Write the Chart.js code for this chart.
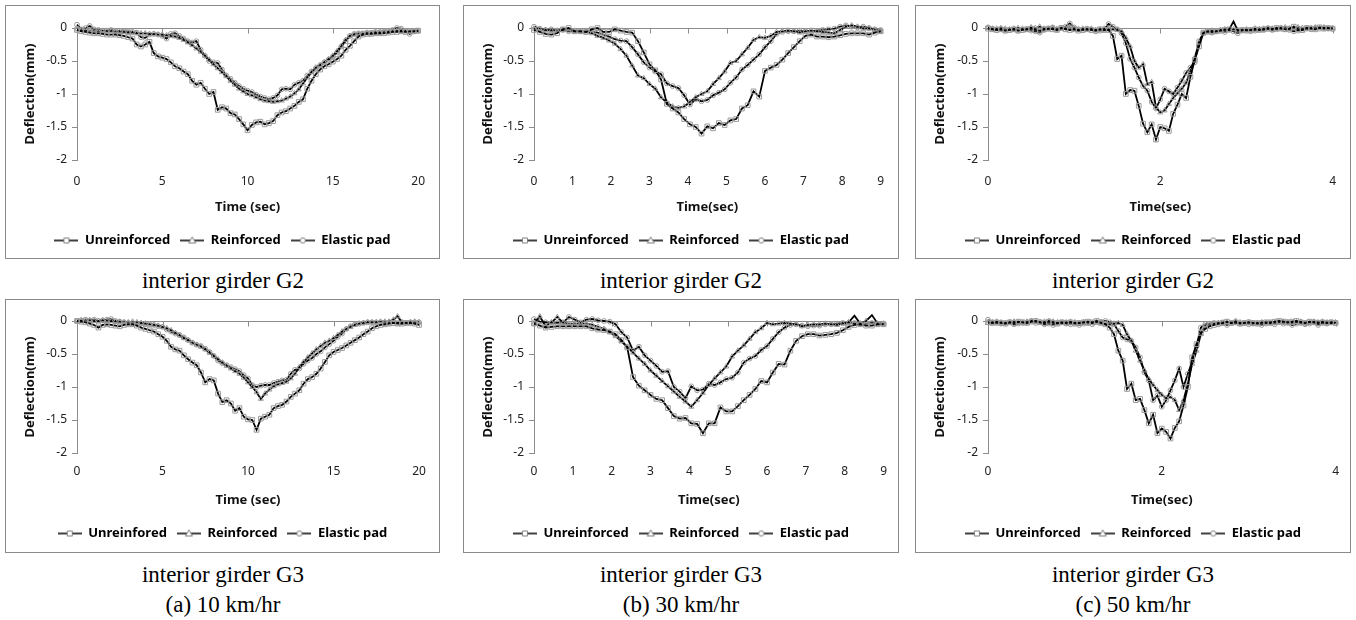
<!DOCTYPE html>
<html>
<head>
<meta charset="utf-8">
<script src="https://cdn.jsdelivr.net/npm/chart.js@4.4.1/dist/chart.umd.min.js"></script>
<style>
  body { margin: 0; background: #fff; width: 1356px; height: 620px; position: relative; overflow: hidden; }
  .panel { position: absolute; border: 1px solid #8a8a8a; background: #fff; }
  .panel canvas { display: block; }
  .cap { position: absolute; width: 440px; text-align: center; font-family: "Liberation Serif", "Times New Roman", serif; font-size: 23px; line-height: 24px; color: #000; white-space: nowrap; }
</style>
</head>
<body>
<div class="panel" style="left:5px;top:5px;width:433px;height:252px"><canvas id="cA" width="433" height="252"></canvas></div>
<div class="panel" style="left:463px;top:5px;width:434px;height:252px"><canvas id="cB" width="434" height="252"></canvas></div>
<div class="panel" style="left:915px;top:5px;width:434px;height:252px"><canvas id="cC" width="434" height="252"></canvas></div>
<div class="panel" style="left:5px;top:299px;width:433px;height:252px"><canvas id="cD" width="433" height="252"></canvas></div>
<div class="panel" style="left:463px;top:299px;width:434px;height:252px"><canvas id="cE" width="434" height="252"></canvas></div>
<div class="panel" style="left:915px;top:299px;width:434px;height:252px"><canvas id="cF" width="434" height="252"></canvas></div>

<div class="cap" style="left:3px;top:269px">interior girder G2</div>
<div class="cap" style="left:461px;top:269px">interior girder G2</div>
<div class="cap" style="left:913px;top:269px">interior girder G2</div>
<div class="cap" style="left:3px;top:563px">interior girder G3</div>
<div class="cap" style="left:461px;top:563px">interior girder G3</div>
<div class="cap" style="left:913px;top:563px">interior girder G3</div>
<div class="cap" style="left:3px;top:593px">(a) 10 km/hr</div>
<div class="cap" style="left:461px;top:593px">(b) 30 km/hr</div>
<div class="cap" style="left:913px;top:593px">(c) 50 km/hr</div>

<script>
// sample times (sec)
var time10 = [0,0.25,0.5,0.75,1,1.25,1.5,1.75,2,2.25,2.5,2.75,3,3.25,3.5,3.75,4,4.25,4.5,4.75,
  5,5.25,5.5,5.75,6,6.25,6.5,6.75,7,7.25,7.5,7.75,8,8.25,8.5,8.75,9,9.25,9.5,9.75,
  10,10.25,10.5,10.75,11,11.25,11.5,11.75,12,12.25,12.5,12.75,13,13.25,13.5,13.75,14,14.25,14.5,14.75,
  15,15.25,15.5,15.75,16,16.25,16.5,16.75,17,17.25,17.5,17.75,18,18.25,18.5,18.75,19,19.25,19.5,19.75,20];
var time30 = [0,0.15,0.3,0.45,0.6,0.75,0.9,1.05,1.2,1.35,1.5,1.65,1.8,1.95,2.1,2.25,2.4,2.55,2.7,2.85,
  3,3.15,3.3,3.45,3.6,3.75,3.9,4.05,4.2,4.35,4.5,4.65,4.8,4.95,5.1,5.25,5.4,5.55,5.7,5.85,
  6,6.15,6.3,6.45,6.6,6.75,6.9,7.05,7.2,7.35,7.5,7.65,7.8,7.95,8.1,8.25,8.4,8.55,8.7,8.85,9];
var time50 = [0,0.05,0.1,0.15,0.2,0.25,0.3,0.35,0.4,0.45,0.5,0.55,0.6,0.65,0.7,0.75,0.8,0.85,0.9,0.95,
  1,1.05,1.1,1.15,1.2,1.25,1.3,1.35,1.4,1.45,1.5,1.55,1.6,1.65,1.7,1.75,1.8,1.85,1.9,1.95,
  2,2.05,2.1,2.15,2.2,2.25,2.3,2.35,2.4,2.45,2.5,2.55,2.6,2.65,2.7,2.75,2.8,2.85,2.9,2.95,
  3,3.05,3.1,3.15,3.2,3.25,3.3,3.35,3.4,3.45,3.5,3.55,3.6,3.65,3.7,3.75,3.8,3.85,3.9,3.95,4];

// (a) 10 km/hr, G2
var unrA = [-0.03,-0.05,-0.06,-0.07,-0.08,-0.08,-0.09,-0.1,-0.1,-0.1,
  -0.11,-0.12,-0.14,-0.16,-0.25,-0.28,-0.25,-0.21,-0.38,-0.43,
  -0.45,-0.47,-0.52,-0.58,-0.61,-0.66,-0.7,-0.8,-0.86,-0.83,
  -0.92,-1.0,-0.97,-1.24,-1.2,-1.22,-1.29,-1.31,-1.38,-1.46,
  -1.55,-1.47,-1.43,-1.42,-1.46,-1.44,-1.41,-1.32,-1.28,-1.26,
  -1.22,-1.18,-1.12,-1.08,-0.92,-0.8,-0.7,-0.63,-0.58,-0.55,
  -0.51,-0.47,-0.42,-0.33,-0.27,-0.2,-0.13,-0.1,-0.09,-0.09,
  -0.08,-0.08,-0.08,-0.07,-0.06,-0.06,-0.05,-0.06,-0.05,-0.05,-0.04];
var reiA = [-0.02,-0.03,-0.03,-0.04,-0.04,-0.05,-0.05,-0.05,-0.05,-0.06,
  -0.06,-0.06,-0.07,-0.07,-0.08,-0.08,-0.08,-0.09,-0.09,-0.1,
  -0.1,-0.11,-0.12,-0.13,-0.15,-0.18,-0.22,-0.26,-0.31,-0.36,
  -0.42,-0.48,-0.55,-0.61,-0.67,-0.73,-0.8,-0.86,-0.92,-0.96,
  -1.0,-1.02,-1.05,-1.08,-1.1,-1.11,-1.12,-1.11,-1.1,-1.07,
  -1.04,-0.99,-0.93,-0.84,-0.75,-0.67,-0.6,-0.56,-0.52,-0.47,
  -0.42,-0.35,-0.27,-0.18,-0.12,-0.1,-0.09,-0.09,-0.08,-0.08,
  -0.07,-0.07,-0.06,-0.06,-0.05,-0.04,-0.04,-0.05,-0.05,-0.05,-0.05];
var elaA = [0.05,-0.02,0.0,0.03,-0.02,-0.03,-0.04,-0.04,-0.03,-0.05,
  -0.04,-0.05,-0.05,-0.06,-0.07,-0.14,-0.15,-0.1,-0.09,-0.1,
  -0.12,-0.16,-0.09,-0.08,-0.12,-0.16,-0.2,-0.22,-0.2,-0.33,
  -0.42,-0.5,-0.52,-0.53,-0.63,-0.72,-0.77,-0.83,-0.88,-0.92,
  -0.95,-0.97,-1.01,-1.04,-1.06,-1.08,-1.06,-1.02,-0.93,-0.92,
  -0.93,-0.86,-0.83,-0.8,-0.72,-0.66,-0.61,-0.57,-0.52,-0.48,
  -0.43,-0.37,-0.28,-0.2,-0.12,-0.09,-0.08,-0.08,-0.07,-0.07,
  -0.06,-0.06,-0.05,-0.04,-0.03,0.0,-0.01,-0.04,-0.09,-0.05,-0.04];

// (b) 30 km/hr, G2
var unrB = [-0.03,-0.06,-0.09,-0.1,-0.08,-0.02,0.0,-0.05,-0.05,-0.06,
  -0.02,0.0,-0.06,-0.06,-0.02,-0.04,-0.06,-0.07,-0.2,-0.37,
  -0.55,-0.64,-0.78,-1.15,-1.22,-1.28,-1.38,-1.46,-1.5,-1.6,
  -1.49,-1.52,-1.44,-1.47,-1.4,-1.38,-1.22,-1.17,-0.96,-1.04,
  -0.65,-0.6,-0.56,-0.48,-0.38,-0.29,-0.2,-0.12,-0.1,-0.13,
  -0.13,-0.14,-0.13,-0.11,-0.09,-0.08,-0.08,-0.08,-0.1,-0.07,-0.05];
var reiB = [-0.01,-0.02,-0.03,-0.04,-0.04,-0.03,-0.04,-0.05,-0.05,-0.05,
  -0.08,-0.12,-0.15,-0.19,-0.24,-0.32,-0.42,-0.57,-0.72,-0.76,
  -0.85,-0.92,-1.05,-1.13,-1.19,-1.21,-1.19,-1.12,-1.05,-1.0,
  -0.96,-0.85,-0.76,-0.66,-0.53,-0.5,-0.4,-0.3,-0.18,-0.14,
  -0.15,-0.12,-0.06,-0.05,-0.04,-0.05,-0.07,-0.05,-0.04,-0.05,
  -0.06,-0.07,-0.08,-0.03,0.02,0.04,0.02,-0.01,-0.01,-0.03,-0.05];
var elaB = [0.02,-0.01,-0.03,-0.02,-0.04,-0.03,-0.05,-0.04,-0.05,-0.06,
  -0.05,-0.07,-0.1,-0.13,-0.17,-0.19,-0.2,-0.29,-0.4,-0.52,
  -0.6,-0.66,-0.7,-0.84,-0.88,-0.91,-1.02,-1.16,-1.08,-1.11,
  -1.09,-1.02,-0.98,-0.93,-0.83,-0.75,-0.63,-0.56,-0.48,-0.4,
  -0.29,-0.2,-0.09,-0.06,-0.05,-0.05,-0.04,-0.05,-0.05,-0.04,
  -0.03,-0.02,-0.01,0.02,0.04,0.02,0.01,0.02,0.0,-0.02,-0.03];

// (c) 50 km/hr, G2
var unrC = [-0.01,-0.02,-0.03,-0.02,-0.04,-0.03,-0.02,-0.04,-0.03,-0.02,
  -0.01,-0.03,-0.04,-0.02,-0.01,-0.02,-0.03,0.0,-0.02,-0.03,
  -0.02,-0.04,-0.03,-0.02,-0.03,-0.04,-0.02,-0.03,-0.03,-0.12,
  -0.47,-0.42,-1.0,-0.94,-0.95,-1.18,-1.45,-1.58,-1.46,-1.69,
  -1.5,-1.52,-1.56,-1.3,-1.16,-1.0,-1.06,-0.74,-0.48,-0.28,
  -0.07,-0.05,-0.06,-0.05,-0.04,-0.03,-0.02,0.1,-0.04,-0.03,
  -0.04,-0.03,-0.02,-0.03,-0.02,-0.01,-0.02,0.0,-0.01,-0.02,
  -0.01,0.02,-0.02,-0.03,0.0,-0.01,-0.02,0.01,-0.01,0.0,-0.01];
var reiC = [0.0,-0.01,-0.01,0.0,-0.01,-0.02,-0.01,0.0,-0.01,-0.02,
  0.01,0.0,0.02,-0.01,-0.01,0.0,-0.02,-0.01,0.0,0.01,
  -0.01,-0.02,-0.01,-0.02,-0.01,-0.03,-0.02,-0.01,-0.02,-0.02,
  -0.03,-0.05,-0.15,-0.28,-0.5,-0.6,-0.55,-0.85,-0.82,-1.2,
  -1.28,-1.25,-1.15,-1.06,-0.99,-0.92,-0.83,-0.65,-0.45,-0.22,
  -0.08,-0.05,-0.04,-0.05,-0.03,-0.02,-0.03,-0.02,-0.03,-0.04,
  -0.02,-0.03,-0.01,-0.02,-0.01,0.0,-0.01,-0.02,0.0,0.01,
  -0.01,0.0,0.01,0.0,-0.01,0.0,0.01,0.0,0.01,0.0,0.0];
var elaC = [0.01,-0.01,-0.03,-0.02,-0.04,-0.03,-0.02,-0.04,-0.03,-0.02,
  -0.04,-0.05,-0.07,-0.03,-0.01,0.01,-0.02,0.0,0.02,0.07,
  0.01,-0.02,-0.03,-0.01,-0.03,-0.05,-0.04,-0.02,0.06,0.02,
  -0.02,-0.08,-0.23,-0.47,-0.6,-0.75,-0.88,-0.95,-1.12,-1.22,
  -1.08,-0.92,-0.96,-1.0,-0.9,-0.8,-0.68,-0.6,-0.52,-0.2,
  -0.08,-0.06,-0.07,-0.05,-0.04,-0.06,-0.03,-0.05,-0.08,-0.04,
  -0.03,-0.05,-0.04,-0.02,-0.03,-0.01,-0.03,-0.02,0.0,-0.02,
  -0.03,-0.05,-0.04,-0.03,-0.01,-0.02,0.0,-0.01,0.0,-0.01,-0.01];

// (a) 10 km/hr, G3
var unrD = [0.0,-0.01,-0.02,-0.04,-0.06,-0.1,-0.06,-0.05,-0.06,-0.07,
  -0.08,-0.06,-0.05,-0.05,-0.07,-0.1,-0.12,-0.14,-0.16,-0.2,
  -0.24,-0.3,-0.39,-0.43,-0.45,-0.52,-0.58,-0.63,-0.67,-0.78,
  -0.93,-0.88,-0.9,-1.1,-1.23,-1.2,-1.25,-1.36,-1.32,-1.45,
  -1.49,-1.5,-1.65,-1.48,-1.45,-1.42,-1.32,-1.29,-1.27,-1.22,
  -1.15,-1.1,-1.05,-0.95,-0.88,-0.85,-0.8,-0.72,-0.62,-0.52,
  -0.47,-0.44,-0.41,-0.37,-0.33,-0.29,-0.25,-0.2,-0.16,-0.11,
  -0.08,-0.06,-0.05,-0.04,-0.03,-0.04,-0.04,-0.03,-0.03,-0.04,-0.06];
var reiD = [0.0,0.01,0.01,0.01,0.0,0.0,0.01,0.0,0.0,-0.01,
  -0.01,-0.02,-0.02,-0.01,-0.02,-0.03,-0.04,-0.05,-0.06,-0.07,
  -0.09,-0.11,-0.14,-0.18,-0.22,-0.26,-0.29,-0.33,-0.36,-0.39,
  -0.43,-0.48,-0.53,-0.58,-0.63,-0.68,-0.72,-0.76,-0.8,-0.86,
  -0.93,-1.0,-1.08,-1.18,-1.1,-1.04,-0.99,-0.96,-0.94,-0.92,
  -0.87,-0.8,-0.7,-0.62,-0.55,-0.49,-0.43,-0.38,-0.33,-0.3,
  -0.26,-0.21,-0.16,-0.12,-0.09,-0.06,-0.04,-0.03,-0.02,-0.02,
  -0.02,-0.01,-0.01,-0.01,0.02,0.07,-0.02,-0.03,-0.02,-0.01,-0.02];
var elaD = [0.0,0.01,0.02,0.01,0.02,0.0,0.01,0.02,0.03,0.0,
  -0.01,-0.02,-0.03,-0.04,-0.04,-0.04,-0.04,-0.05,-0.06,-0.08,
  -0.09,-0.13,-0.16,-0.19,-0.21,-0.25,-0.29,-0.33,-0.36,-0.38,
  -0.42,-0.47,-0.53,-0.6,-0.64,-0.67,-0.7,-0.73,-0.76,-0.82,
  -0.87,-0.97,-1.0,-0.98,-0.97,-0.97,-0.94,-0.92,-0.9,-0.89,
  -0.8,-0.74,-0.72,-0.65,-0.6,-0.56,-0.5,-0.46,-0.4,-0.35,
  -0.3,-0.24,-0.19,-0.12,-0.08,-0.05,-0.04,-0.03,-0.02,-0.02,
  -0.02,-0.02,-0.03,-0.03,-0.03,-0.03,-0.02,-0.03,-0.02,-0.02,-0.02];

// (b) 30 km/hr, G3
var unrE = [-0.04,-0.07,-0.1,-0.09,-0.08,-0.08,-0.08,-0.08,-0.08,-0.08,
  -0.11,-0.13,-0.14,-0.16,-0.2,-0.29,-0.4,-0.85,-0.98,-1.05,
  -1.12,-1.18,-1.2,-1.32,-1.44,-1.48,-1.47,-1.55,-1.56,-1.7,
  -1.55,-1.55,-1.31,-1.37,-1.37,-1.29,-1.2,-1.12,-1.03,-0.91,
  -0.93,-0.78,-0.65,-0.66,-0.45,-0.3,-0.23,-0.2,-0.2,-0.22,
  -0.21,-0.2,-0.18,-0.14,-0.09,-0.06,-0.05,-0.07,-0.07,-0.05,-0.05];
var reiE = [-0.04,0.07,-0.08,-0.02,0.06,-0.03,-0.04,-0.04,-0.04,-0.04,
  -0.06,-0.09,-0.12,-0.17,-0.23,-0.31,-0.39,-0.48,-0.57,-0.65,
  -0.75,-0.83,-0.91,-0.99,-1.07,-1.15,-1.22,-1.3,-1.2,-1.09,
  -0.97,-0.87,-0.78,-0.69,-0.54,-0.45,-0.37,-0.27,-0.17,-0.11,
  -0.03,-0.05,-0.04,-0.03,-0.04,-0.05,-0.08,-0.06,-0.05,-0.05,
  -0.04,-0.05,-0.06,-0.04,-0.02,0.08,-0.04,0.0,0.09,-0.04,-0.04];
var elaE = [0.03,-0.01,-0.02,-0.03,-0.03,-0.02,0.06,0.02,-0.02,0.02,
  0.03,0.01,0.0,-0.01,-0.05,-0.17,-0.25,-0.45,-0.39,-0.52,
  -0.6,-0.68,-0.77,-0.76,-1.0,-1.07,-1.17,-0.99,-1.05,-1.04,
  -0.95,-0.97,-0.93,-0.88,-0.86,-0.78,-0.63,-0.57,-0.53,-0.44,
  -0.38,-0.27,-0.17,-0.1,-0.06,-0.05,-0.07,-0.08,-0.07,-0.07,
  -0.05,-0.05,-0.04,-0.03,-0.03,-0.03,-0.04,-0.04,-0.03,-0.04,-0.04];

// (c) 50 km/hr, G3
var unrF = [-0.02,-0.03,-0.02,-0.03,-0.04,-0.02,-0.03,-0.01,-0.02,-0.03,
  -0.01,0.0,-0.02,-0.03,-0.01,-0.03,-0.04,-0.02,-0.03,-0.02,
  -0.04,-0.03,-0.02,-0.01,-0.02,0.0,-0.03,-0.05,-0.1,-0.2,
  -0.45,-0.6,-1.03,-0.95,-1.2,-1.18,-1.35,-1.55,-1.42,-1.7,
  -1.63,-1.68,-1.78,-1.62,-1.52,-1.28,-1.0,-0.55,-0.35,-0.18,
  -0.12,-0.08,-0.06,-0.04,-0.03,-0.01,-0.03,-0.02,-0.04,-0.03,
  -0.02,-0.03,-0.04,-0.03,-0.02,-0.02,-0.01,0.0,-0.01,-0.02,
  -0.01,0.0,-0.02,-0.03,-0.01,-0.02,-0.03,-0.02,-0.03,-0.02,-0.03];
var reiF = [-0.03,-0.02,-0.01,-0.02,-0.03,-0.02,-0.01,-0.02,-0.02,-0.01,
  0.0,-0.01,-0.02,-0.01,0.0,-0.01,-0.02,-0.03,-0.02,-0.01,
  -0.02,-0.03,-0.02,-0.04,-0.03,-0.02,-0.03,-0.04,-0.05,-0.04,
  -0.03,-0.06,-0.2,-0.3,-0.45,-0.6,-0.75,-0.88,-0.97,-1.05,
  -1.12,-1.17,-1.15,-1.2,-1.35,-1.2,-0.95,-0.65,-0.45,-0.2,
  -0.08,-0.05,-0.04,-0.03,-0.04,-0.02,-0.03,0.0,-0.02,-0.03,
  -0.02,-0.04,-0.03,-0.02,-0.03,-0.04,-0.03,-0.02,-0.01,-0.02,
  -0.03,-0.02,-0.01,-0.03,-0.02,-0.01,-0.02,-0.01,-0.02,-0.03,-0.02];
var elaF = [0.02,-0.02,-0.03,-0.04,-0.03,-0.02,-0.05,-0.04,-0.03,-0.02,
  0.0,-0.03,-0.02,-0.05,-0.04,-0.06,-0.03,-0.02,-0.04,-0.05,
  -0.03,-0.06,-0.04,-0.03,-0.05,-0.02,-0.01,0.0,-0.02,-0.05,
  -0.15,-0.25,-0.28,-0.3,-0.4,-0.55,-0.78,-0.9,-1.2,-1.13,
  -1.3,-1.2,-1.05,-0.9,-0.72,-1.0,-0.8,-0.62,-0.38,-0.1,
  -0.05,-0.04,-0.03,-0.05,-0.02,-0.06,-0.03,-0.02,-0.04,-0.03,
  -0.05,-0.04,-0.03,-0.06,-0.04,-0.03,-0.05,-0.02,-0.04,-0.03,
  -0.06,-0.04,-0.03,-0.05,-0.04,-0.02,-0.06,-0.03,-0.04,-0.02,-0.03];

var seriesNames = ["Unreinforced", "Reinforced", "Elastic pad"];
var seriesNamesD = ["Unreinfored", "Reinforced", "Elastic pad"];
var yTicks = [0, -0.5, -1, -1.5, -2];
var yTickLabels = ["0", "-0.5", "-1", "-1.5", "-2"];

var axisColor = "#8c8c8c";
var textColor = "#222";
var markerColor = "#9a9a9a";
var markers = ["rect", "triangle", "circle"];
Chart.defaults.font.family = '"Noto Sans", "Open Sans", sans-serif';

// small line + marker picture for the legend
function legendMark(style) {
    var c = document.createElement("canvas");
    c.width = 24;
    c.height = 10;
    var g = c.getContext("2d");
    g.strokeStyle = "#000";
    g.lineWidth = 1.5;
    g.beginPath();
    g.moveTo(0, 5);
    g.lineTo(24, 5);
    g.stroke();
    g.fillStyle = "#fff";
    g.strokeStyle = "#808080";
    g.lineWidth = 1;
    g.beginPath();
    if (style === "rect") {
        g.rect(9.5, 2.5, 5, 5);
    } else if (style === "triangle") {
        g.moveTo(12, 1.5);
        g.lineTo(15.5, 7.5);
        g.lineTo(8.5, 7.5);
        g.closePath();
    } else {
        g.arc(12, 5, 2.6, 0, Math.PI * 2);
    }
    g.fill();
    g.stroke();
    return c;
}
var legendMarks = {
    rect: legendMark("rect"),
    triangle: legendMark("triangle"),
    circle: legendMark("circle")
};

// axis line along y = 0 with small downward tick marks
var zeroLine = {
    id: "zeroLine",
    beforeDatasetsDraw: function (chart) {
        var xs = chart.scales.x, ys = chart.scales.y, ctx = chart.ctx;
        var py = Math.round(ys.getPixelForValue(0)) + 0.5;
        ctx.save();
        ctx.strokeStyle = axisColor;
        ctx.lineWidth = 1;
        ctx.beginPath();
        ctx.moveTo(xs.left, py);
        ctx.lineTo(xs.right, py);
        xs.ticks.forEach(function (t) {
            if (t.value === 0) return;
            var px = Math.round(xs.getPixelForValue(t.value)) + 0.5;
            ctx.moveTo(px, py);
            ctx.lineTo(px, py + 5);
        });
        ctx.stroke();
        ctx.restore();
    }
};

function makePanel(p) {
    var datasets = p.series.map(function (vals, i) {
        return {
            label: p.names[i],
            data: p.time.map(function (t, k) { return { x: t, y: vals[k] }; }),
            borderColor: "#000",
            borderWidth: 1.8,
            pointStyle: markers[i],
            pointRadius: [3.3, 2.9, 2.4][i],
            pointBorderColor: markerColor,
            pointBackgroundColor: "rgba(255,255,255,0)",
            pointBorderWidth: 1,
            tension: 0,
            clip: false
        };
    });
    new Chart(document.getElementById(p.canvas).getContext("2d"), {
        type: "line",
        data: { datasets: datasets },
        plugins: [zeroLine],
        options: {
            responsive: false,
            animation: false,
            events: [],
            layout: { padding: { left: 0, right: 0, top: p.top, bottom: p.bottom } },
            plugins: {
                tooltip: { enabled: false },
                legend: {
                    position: "bottom",
                    labels: {
                        usePointStyle: true,
                        pointStyleWidth: 24,
                        padding: 10,
                        color: "#111",
                        font: { size: 13, weight: "bold" },
                        generateLabels: function (chart) {
                            return chart.data.datasets.map(function (ds, i) {
                                return {
                                    text: ds.label,
                                    pointStyle: legendMarks[ds.pointStyle],
                                    datasetIndex: i,
                                    hidden: false,
                                    lineWidth: 0,
                                    strokeStyle: "transparent",
                                    fillStyle: "transparent"
                                };
                            });
                        }
                    }
                }
            },
            scales: {
                x: {
                    type: "linear",
                    min: 0,
                    max: p.xMax,
                    afterFit: function (s) { s.height = 64; },
                    ticks: { stepSize: p.xStep, padding: p.tickPad, color: textColor, font: { size: 12 } },
                    grid: { display: false, drawTicks: false },
                    border: { display: false },
                    title: { display: true, text: p.xTitle, color: "#111", font: { size: 13, weight: "bold" }, padding: { top: 0, bottom: 9 } }
                },
                y: {
                    min: -2,
                    max: 0,
                    afterFit: function (s) { s.width = p.left; },
                    afterBuildTicks: function (s) { s.ticks = yTicks.map(function (v) { return { value: v }; }); },
                    ticks: {
                        padding: 5,
                        color: textColor,
                        font: { size: 12 },
                        callback: function (v) { return yTickLabels[yTicks.indexOf(v)]; }
                    },
                    grid: { drawOnChartArea: false, drawTicks: true, tickLength: 5, color: axisColor },
                    border: { display: true, color: axisColor },
                    title: { display: true, text: "Deflection(mm)", color: "#111", font: { size: 13, weight: "bold" }, padding: { top: 16, bottom: 0 } }
                },
                spare: {
                    position: "right",
                    afterFit: function (s) { s.width = p.right; },
                    ticks: { display: false },
                    grid: { display: false, drawTicks: false },
                    border: { display: false }
                }
            }
        }
    });
}

var panels = [
    { canvas: "cA", time: time10, series: [unrA, reiA, elaA], names: seriesNames, xMax: 20, xStep: 5, xTitle: "Time (sec)", left: 71, right: 15, top: 22, bottom: 1, tickPad: 14 },
    { canvas: "cB", time: time30, series: [unrB, reiB, elaB], names: seriesNames, xMax: 9, xStep: 1, xTitle: "Time(sec)", left: 70, right: 13, top: 22, bottom: 1, tickPad: 14 },
    { canvas: "cC", time: time50, series: [unrC, reiC, elaC], names: seriesNames, xMax: 4, xStep: 2, xTitle: "Time(sec)", left: 72, right: 11, top: 22, bottom: 1, tickPad: 14 },
    { canvas: "cD", time: time10, series: [unrD, reiD, elaD], names: seriesNamesD, xMax: 20, xStep: 5, xTitle: "Time (sec)", left: 71, right: 20, top: 21, bottom: 2, tickPad: 11 },
    { canvas: "cE", time: time30, series: [unrE, reiE, elaE], names: seriesNames, xMax: 9, xStep: 1, xTitle: "Time(sec)", left: 70, right: 13, top: 21, bottom: 2, tickPad: 11 },
    { canvas: "cF", time: time50, series: [unrF, reiF, elaF], names: seriesNames, xMax: 4, xStep: 2, xTitle: "Time(sec)", left: 72, right: 11, top: 21, bottom: 2, tickPad: 11 }
];
panels.forEach(makePanel);
</script>
</body>
</html>
